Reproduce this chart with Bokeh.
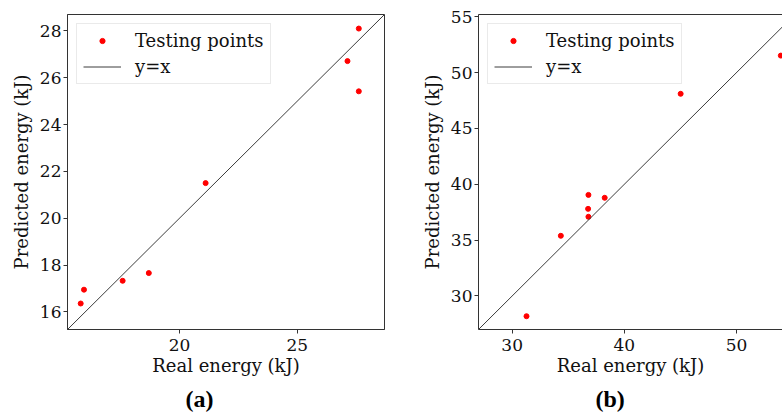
from bokeh.plotting import figure
from bokeh.layouts import row
from bokeh.models import FixedTicker, LinearAxis, Title, Legend, LegendItem
from bokeh.embed import file_html
from bokeh.resources import INLINE

# ---- data (a)
a_real = [15.81, 15.95, 17.59, 18.70, 21.11, 27.13, 27.61, 27.61]
a_pred = [16.36, 16.95, 17.33, 17.66, 21.50, 26.71, 28.10, 25.42]
a_lim = [15.25, 28.7]
a_xticks = [20, 25]
a_yticks = [16, 18, 20, 22, 24, 26, 28]

# ---- data (b)
b_real = [31.28, 34.34, 36.80, 36.77, 36.80, 38.25, 45.02, 53.95]
b_pred = [28.19, 35.39, 39.05, 37.80, 37.09, 38.79, 48.10, 51.52]
b_lim = [27.0, 55.2]
b_xview = [27.0, 54.1]
b_xticks = [30, 40, 50]
b_yticks = [30, 35, 40, 45, 50, 55]

FONT = "DejaVu Serif"
FRAME = "#333333"


def make_panel(xs, ys, lim, xview, xticks, yticks, tag, tag_shift,
               ml, mr, mt, mb, right_open):
    p = figure(width=391, height=419, output_backend="svg", toolbar_location=None,
               x_range=(xview[0], xview[1]), y_range=(lim[0], lim[1]),
               min_border_left=ml, min_border_right=mr, min_border_top=mt,
               min_border_bottom=mb, background_fill_color="white",
               border_fill_color="white")
    p.grid.visible = False

    for ax, ticks, lab in ((p.below[0], xticks, "Real energy (kJ)"),
                           (p.left[0], yticks, "Predicted energy (kJ)")):
        ax.ticker = FixedTicker(ticks=ticks)
        ax.axis_label = lab
        ax.axis_label_text_font = FONT
        ax.axis_label_text_font_size = "18px"
        ax.axis_label_text_font_style = "normal"
        ax.axis_label_text_color = "#111111"
        ax.major_label_text_font = FONT
        ax.major_label_text_font_size = "17px"
        ax.major_label_text_color = "#111111"
        ax.axis_line_color = FRAME
        ax.major_tick_line_color = FRAME
        ax.major_tick_out = 4
        ax.major_tick_in = 0
        ax.minor_tick_line_color = None
        ax.major_label_standoff = 2
        ax.axis_label_standoff = 2
    p.below[0].major_label_standoff = 5
    p.below[0].axis_label_standoff = 1
    p.left[0].axis_label_standoff = 5

    if right_open:
        p.outline_line_color = None
        top = LinearAxis(ticker=FixedTicker(ticks=[]), major_tick_out=0, major_tick_in=0,
                         major_label_standoff=0, axis_line_color=FRAME, axis_line_width=1,
                         minor_tick_line_color=None, major_label_text_font_size="0px")
        p.add_layout(top, "above")
    else:
        p.outline_line_color = FRAME
        p.outline_line_width = 1
        p.outline_line_alpha = 1

    pts = p.scatter(xs, ys, size=5, color="red", line_color="red")
    ln = p.line(lim, lim, line_color="#3c3c3c", line_width=1)

    leg = Legend(items=[LegendItem(label="Testing points", renderers=[pts]),
                        LegendItem(label="y=x", renderers=[ln])],
                 location="top_left", margin=9, padding=6, spacing=5,
                 label_standoff=14, glyph_width=38, glyph_height=13, label_height=20,
                 label_text_font=FONT, label_text_font_size="18px",
                 label_text_color="#111111",
                 border_line_color="#d6d6d6", border_line_width=1,
                 background_fill_color="white", background_fill_alpha=0.8)
    p.add_layout(leg, "center")

    t = Title(text=tag, align="left", text_font="Liberation Serif",
              text_font_size="24px", text_font_style="bold", text_color="black",
              standoff=11, offset=tag_shift)
    p.add_layout(t, "below")
    return p


pa = make_panel(a_real, a_pred, a_lim, a_lim, a_xticks, a_yticks, "(a)", 118,
                67, 7, 14, 90, False)
pb = make_panel(b_real, b_pred, b_lim, b_xview, b_xticks, b_yticks, "(b)", 117,
                87, 0, 14, 90, True)

layout = row(pa, pb)
open("out.html", "w").write(file_html(layout, INLINE))
